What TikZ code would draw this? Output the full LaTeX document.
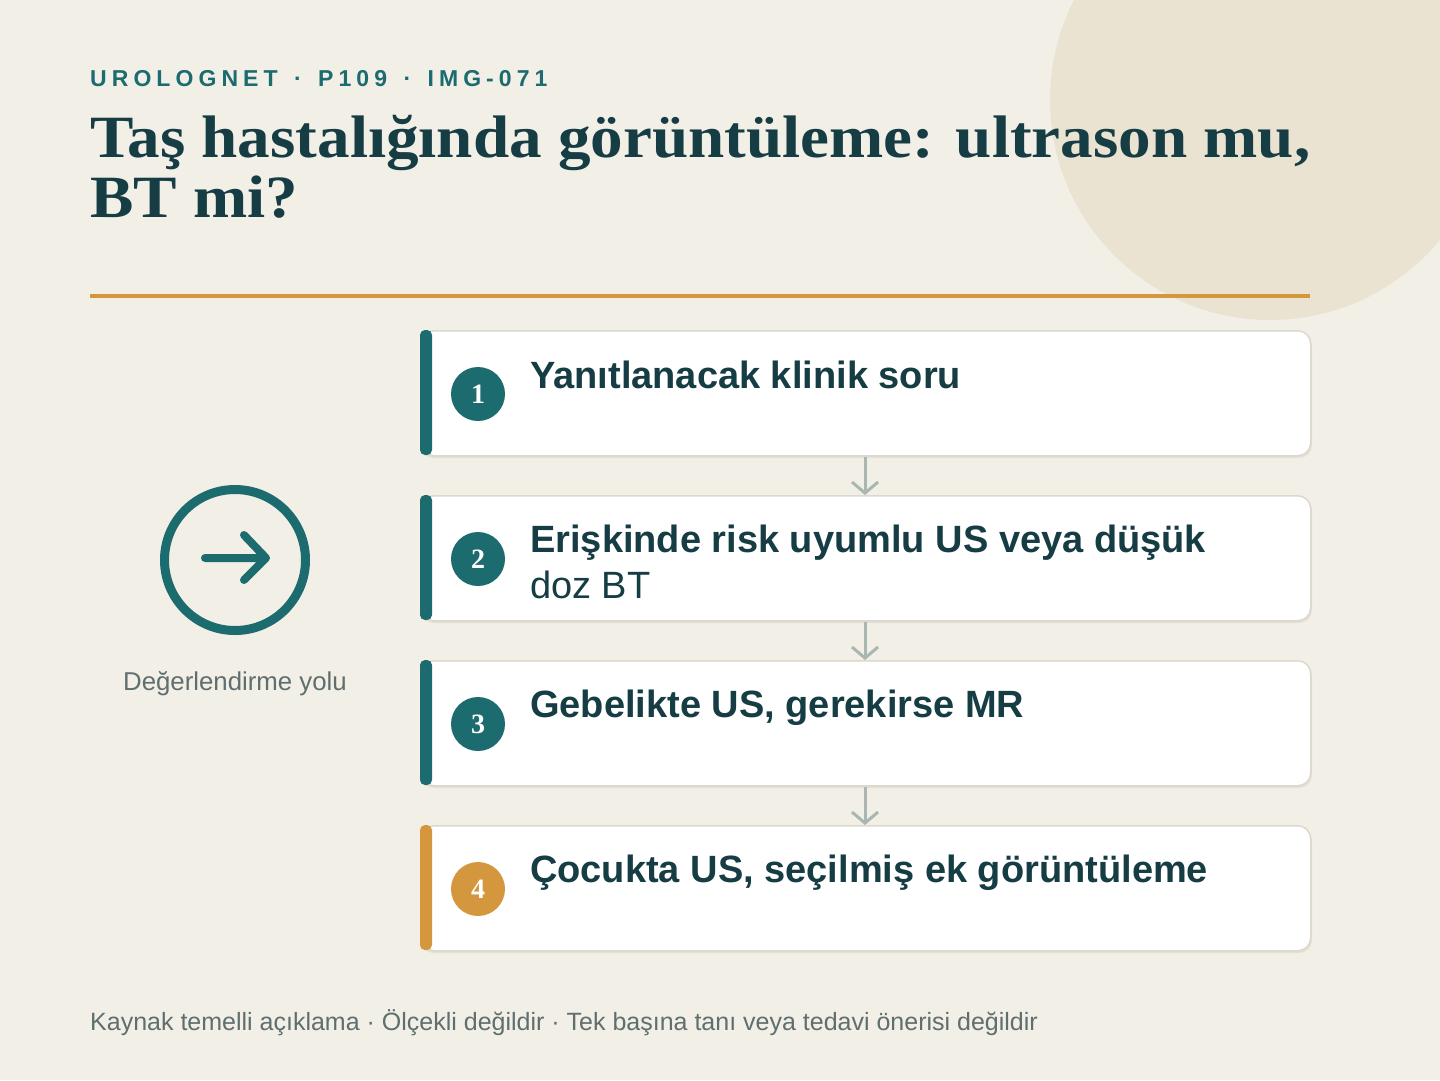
\documentclass[tikz,border=0pt]{standalone}
\usepackage{fontspec}
\setmainfont{Liberation Sans}
\newfontfamily\titlefont[FakeStretch=1.085]{Liberation Serif}
\newfontfamily\numfont{Liberation Serif}
\usetikzlibrary{arrows.meta}
\definecolor{bgc}{HTML}{F2EFE7}
\definecolor{blob}{HTML}{EBE3D1}
\definecolor{teal}{HTML}{1B6B6F}
\definecolor{dark}{HTML}{163C44}
\definecolor{gold}{HTML}{D4973E}
\definecolor{cardline}{HTML}{DCD8CE}
\definecolor{shadowc}{HTML}{E4E0D6}
\definecolor{arrowc}{HTML}{A9B6B1}
\definecolor{muted}{HTML}{5F6E6E}
\tikzset{
  card/.style={draw=cardline, line width=1.5pt, fill=white, rounded corners=13pt, minimum width=890pt, minimum height=125pt, anchor=north west, inner sep=0pt},
  stripe/.style={fill=#1, rounded corners=5pt},
  numc/.style={circle, fill=#1, minimum size=54pt, inner sep=0pt, text=white, font=\numfont\bfseries\fontsize{28}{28}\selectfont},
  cardtxt/.style={anchor=base west, text=dark, font=\fontsize{38}{46}\selectfont, align=left, inner sep=0pt},
  cardbold/.style={cardtxt, font=\bfseries\fontsize{38}{46}\selectfont},
  flow/.style={draw=arrowc, line width=3pt, -{Straight Barb[length=11pt, width=26pt, line width=3pt]}},
}
\begin{document}
\begin{tikzpicture}[x=1pt, y=-1pt]
\fill[bgc] (0,0) rectangle (1440,1080);
\useasboundingbox (0,0) rectangle (1440,1080);
\begin{scope}
\clip (0,0) rectangle (1440,1080);
\fill[blob] (1270,100) circle (220);
\end{scope}
\node[anchor=base west, inner sep=0pt, text=teal, font=\bfseries\fontsize{23}{23}\selectfont\addfontfeatures{LetterSpace=22}] (hdr) at (90,86) {UROLOGNET\hspace{5pt} · \hspace{5pt}P109\hspace{5pt} · \hspace{5pt}IMG-071};
\node[anchor=base west, inner sep=0pt, text=dark, align=left, font=\titlefont\bfseries\fontsize{60}{60}\selectfont] (t1) at (90,157) {Taş hastalığında görüntüleme: ultrason mu,};
\node[anchor=base west, inner sep=0pt, text=dark, align=left, font=\titlefont\bfseries\fontsize{60}{60}\selectfont] (t2) at (90,217) {BT mi?};
\draw[gold, line width=4pt] (90,296) coordinate (r1) -- (1310,296) coordinate (r2);
% cards
\foreach \i/\y/\c in {1/330/teal,2/495/teal,3/660/teal,4/825/gold}{
  \fill[shadowc, rounded corners=13pt] (421,\y+3) rectangle (1312,\y+128);
  \node[card] (c\i) at (420,\y) {};
  \fill[stripe=\c] (420,\y) rectangle (432,\y+125);
  \node[numc=\c] (n\i) at (478,\y+64) {\i};
}
\node[cardbold] (x1) at (530,388) {Yanıtlanacak klinik soru};
\node[cardbold] (x2) at (530,552) {Erişkinde risk uyumlu US veya düşük};
\node[cardtxt] (x2b) at (530,598) {doz BT};
\node[cardbold] (x3) at (530,717) {Gebelikte US, gerekirse MR};
\node[cardbold] (x4) at (530,882) {Çocukta US, seçilmiş ek görüntüleme};
\draw[flow] (c1.south -| 865,0) -- (c2.north -| 865,0);
\draw[flow] (c2.south -| 865,0) -- (c3.north -| 865,0);
\draw[flow] (c3.south -| 865,0) -- (c4.north -| 865,0);
% left icon
\node[circle, draw=teal, line width=9pt, minimum size=141pt, inner sep=0pt] (ic) at (235,560) {};
\draw[teal, line width=8pt, line cap=round, line join=round] (205,558) -- (266,558) (244,535) -- (266,558) -- (244,580);
\node[anchor=base, inner sep=0pt, text=muted, font=\fontsize{25.8}{26}\selectfont] (lbl) at (235,690) {Değerlendirme yolu};
\node[anchor=base west, inner sep=0pt, text=muted, font=\fontsize{25}{25}\selectfont] (ft) at (90,1030) {Kaynak temelli açıklama · Ölçekli değildir · Tek başına tanı veya tedavi önerisi değildir};
\end{tikzpicture}
\end{document}
